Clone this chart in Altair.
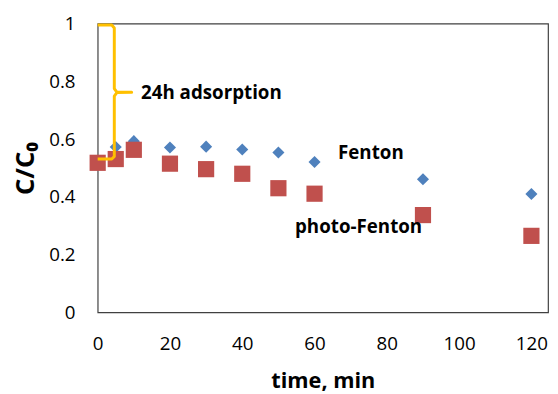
import altair as alt
import pandas as pd

# ---- data ----
time_min = [0, 5, 10, 20, 30, 40, 50, 60, 90, 120]
fenton = [0.52, 0.573, 0.593, 0.571, 0.574, 0.564, 0.554, 0.521, 0.461, 0.410]
photo_fenton = [0.518, 0.531, 0.563, 0.515, 0.496, 0.480, 0.430, 0.411, 0.337, 0.265]

# yellow brace annotation ("24h adsorption": from C/C0 = 1 down to the first sample)
brace_t = [0, 3.9, 4.6, 4.6, 5.3, 9.4, 5.3, 4.6, 4.6, 3.9, 0]
brace_c = [0.995, 0.995, 0.985, 0.775, 0.763, 0.762, 0.761, 0.749, 0.54, 0.531, 0.531]

label_text = ["24h adsorption", "Fenton", "photo-Fenton"]
label_t = [12.0, 66.5, 54.6]
label_c = [0.758, 0.553, 0.294]

x_ticks = [0, 20, 40, 60, 80, 100, 120]
y_ticks = [0, 0.2, 0.4, 0.6, 0.8, 1.0]

df = pd.DataFrame({"t": time_min, "fenton": fenton, "photo": photo_fenton})
brace = pd.DataFrame({"t": brace_t, "c": brace_c, "i": list(range(len(brace_t)))})
labels = pd.DataFrame({"t": label_t, "c": label_c, "txt": label_text})

FONT = "Open Sans"

x_enc = alt.X(
    "t:Q",
    scale=alt.Scale(domain=[0, 124.6], nice=False, zero=False),
    axis=alt.Axis(values=x_ticks, title="time, min", grid=False, domain=False,
                  ticks=False, labelPadding=23, labelFontSize=19,
                  titleFontSize=22, titleFontWeight="bold", titlePadding=17,
                  labelFlush=False),
)

def y_enc(field):
    return alt.Y(
        field,
        scale=alt.Scale(domain=[0, 1], nice=False),
        axis=alt.Axis(values=y_ticks, format=".1~f", title="C/C₀", grid=False,
                      domain=False, ticks=False, labelPadding=23, labelFontSize=19,
                      titleFontSize=26, titleFontWeight="bold", titlePadding=10,
                      labelFlush=False),
    )

blue = alt.Chart(df).mark_point(shape="diamond", filled=True, size=150,
                                 color="#4F81BD", opacity=1).encode(
    x=x_enc, y=y_enc("fenton:Q"))

red = alt.Chart(df).mark_point(shape="square", filled=True, size=270,
                                color="#C0504D", opacity=1).encode(
    x="t:Q", y="photo:Q")

brace_line = alt.Chart(brace).mark_line(color="#FFC000", strokeWidth=3,
                                         strokeJoin="round").encode(
    x="t:Q", y="c:Q", order="i:Q")

text = alt.Chart(labels).mark_text(align="left", baseline="middle", font=FONT,
                                    fontSize=19, fontWeight="bold",
                                    color="#000000").encode(
    x="t:Q", y="c:Q", text="txt:N")

chart = alt.layer(blue, red, brace_line, text).properties(
    width=457, height=293,
    autosize=alt.AutoSizeParams(type="none"),
    padding={"left": 91, "top": 13, "right": 2, "bottom": 82},
).configure_view(
    stroke="#404040", strokeWidth=1.2
).configure_axis(
    labelFont=FONT, titleFont=FONT, labelColor="#000000", titleColor="#000000"
)

chart.save("out.html", embed_options={"renderer": "svg", "actions": False})
